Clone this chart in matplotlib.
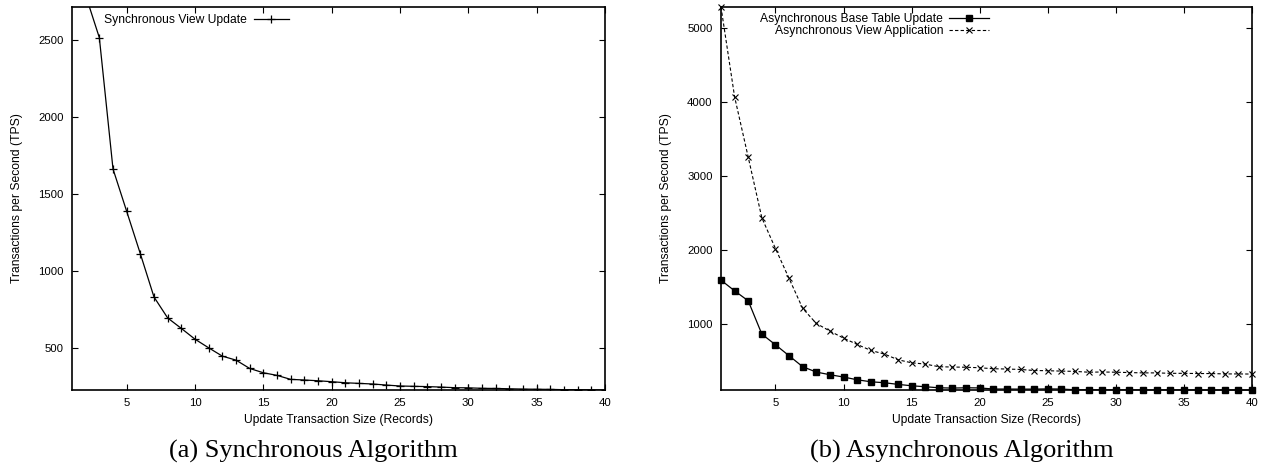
import matplotlib
matplotlib.use("Agg")
import matplotlib.pyplot as plt

# ---- data ----
sizes = list(range(1, 41))
sync_view_update = [3600, 2790, 2515, 1662, 1387, 1111, 830, 694, 626, 556,
                    500, 446, 420, 366, 338, 321, 295, 291, 286, 280,
                    273, 269, 265, 258, 252, 250, 248, 245, 241, 240,
                    237, 236, 234, 232, 231, 230, 228, 228, 227, 226]
async_base_update = [1597, 1453, 1318, 869, 725, 577, 429, 357, 321, 290,
                     253, 226, 213, 191, 172, 159, 145, 141, 145, 143,
                     128, 128, 127, 127, 130, 128, 118, 118, 117, 117,
                     117, 116, 116, 116, 116, 115, 115, 115, 115, 115]
async_view_app = [5283, 4070, 3256, 2438, 2024, 1620, 1216, 1013, 910, 815,
                  730, 649, 600, 523, 482, 465, 429, 425, 422, 415,
                  402, 398, 392, 378, 375, 370, 366, 355, 358, 355,
                  350, 346, 346, 340, 340, 337, 337, 332, 332, 330]
x_ticks = [5, 10, 15, 20, 25, 30, 35, 40]
left_yticks = [500, 1000, 1500, 2000, 2500]
right_yticks = [1000, 2000, 3000, 4000, 5000]
xlabel = "Update Transaction Size (Records)"
ylabel = "Transactions per Second (TPS)"
captions = ["(a) Synchronous Algorithm", "(b) Asynchronous Algorithm"]

W, H = 1270, 470
fig = plt.figure(figsize=(W / 100, H / 100), dpi=100)
plt.rcParams['font.family'] = ['Liberation Sans', 'DejaVu Sans']

TICK_FS = 8.2
LABEL_FS = 8.7


def px_axes(l, t, r, b):
    return fig.add_axes([l / W, 1 - b / H, (r - l) / W, (b - t) / H])


def style(ax, yticks):
    ax.set_xlim(1, 40)
    ax.set_xticks(x_ticks)
    ax.set_yticks(yticks)
    ax.tick_params(direction='in', length=4, width=0.8, labelsize=TICK_FS,
                   top=True, right=True, pad=6, colors='black')
    for s in ax.spines.values():
        s.set_linewidth(1.2)
    ax.set_xlabel(xlabel, fontsize=LABEL_FS, labelpad=4)
    ax.set_ylabel(ylabel, fontsize=LABEL_FS, labelpad=11)


axL = px_axes(72, 7, 605, 390)
axL.plot(sizes, sync_view_update, color='black', lw=0.9, marker='+',
         ms=5.5, mew=0.9, label="Synchronous View Update")
axL.set_ylim(226, 2714)
style(axL, left_yticks)
axL.legend(loc='upper right', bbox_to_anchor=(289 / W, 1 - 14 / H),
           bbox_transform=fig.transFigure, frameon=False, markerfirst=False,
           fontsize=LABEL_FS, borderpad=0, borderaxespad=0, handlelength=2.9,
           handletextpad=0.6)

axR = px_axes(721, 7, 1252, 390)
axR.plot(sizes, async_base_update, color='black', lw=0.9, marker='s',
         ms=4.5, clip_on=False, label="Asynchronous Base Table Update")
axR.plot(sizes, async_view_app, color='black', lw=0.8, ls=(0, (3, 2)),
         marker='x', ms=4.2, mew=0.8, clip_on=False,
         label="Asynchronous View Application")
axR.set_ylim(115, 5283)
style(axR, right_yticks)
axR.legend(loc='upper right', bbox_to_anchor=(989 / W, 1 - 13 / H),
           bbox_transform=fig.transFigure, frameon=False, markerfirst=False,
           fontsize=LABEL_FS, borderpad=0, borderaxespad=0, handlelength=3.3,
           handletextpad=0.5, labelspacing=0.0)

fig.text(313 / W, 1 - 451 / H, captions[0], ha='center', va='center',
         fontsize=19, family=['Liberation Serif', 'DejaVu Serif'])
fig.text(962 / W, 1 - 451 / H, captions[1], ha='center', va='center',
         fontsize=19, family=['Liberation Serif', 'DejaVu Serif'])

fig.savefig("out.png", dpi=100)
